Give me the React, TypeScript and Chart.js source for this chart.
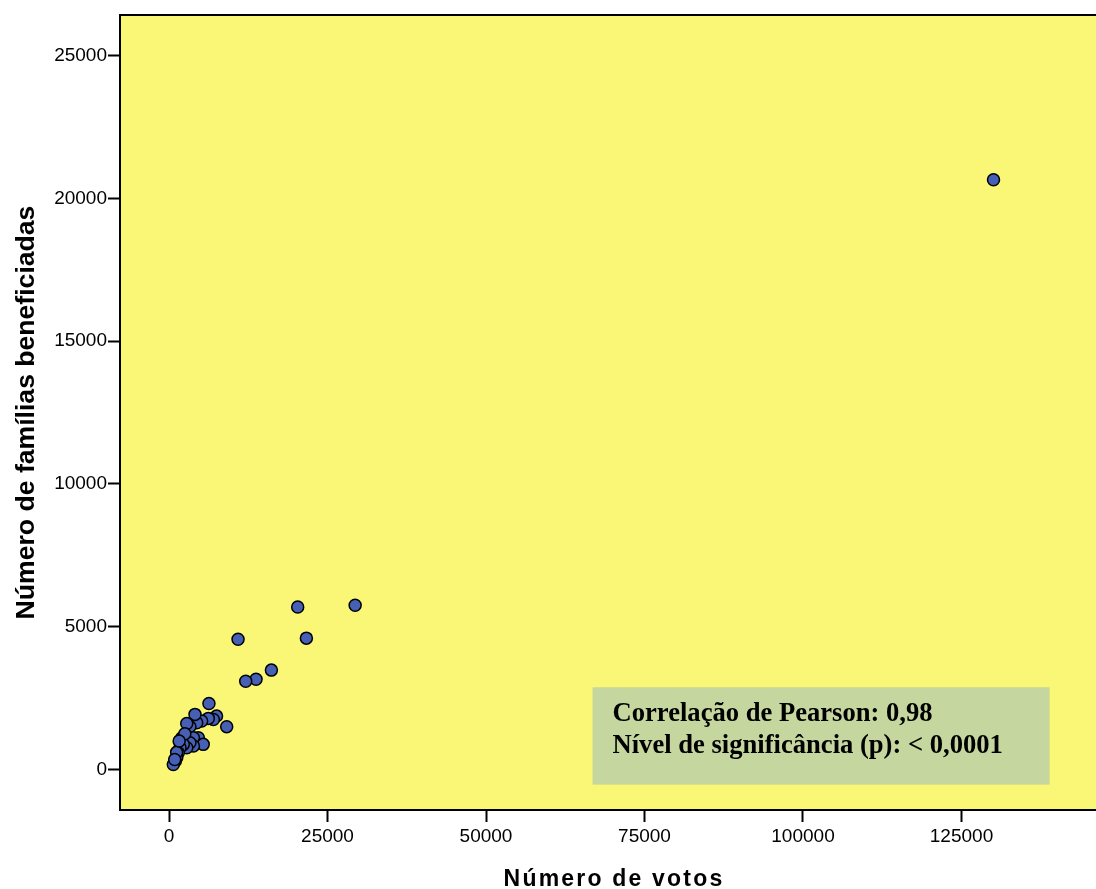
import React, { useEffect, useRef } from "react";
import { Chart, registerables } from "chart.js";

Chart.register(...registerables);

// Número de votos (x) and Número de famílias beneficiadas (y), one pair per point
const votos = [
  130050, 29360, 20300, 21670, 10890, 16150, 13730, 12100,
  9100, 6300, 7500, 7000, 6200, 5150, 4370, 4100, 3300, 2800,
  4630, 3850, 2000, 5400, 3850, 3300, 2800, 2260, 1740, 1470,
  1220, 1000, 680, 2500, 1200, 900, 1600,
];
const familias = [
  20650, 5750, 5690, 4600, 4560, 3480, 3160, 3090,
  1500, 2310, 1870, 1750, 1790, 1700, 1640, 1930, 1500, 1610,
  1110, 1110, 1100, 880, 820, 940, 760, 880, 760, 585,
  410, 300, 175, 1250, 600, 350, 1000,
];

const xTicks = [0, 25000, 50000, 75000, 100000, 125000];
const yTicks = [0, 5000, 10000, 15000, 20000, 25000];
const xTitle = "Número de votos";
const yTitle = "Número de famílias beneficiadas";
const annotationLines = [
  "Correlação de Pearson: 0,98",
  "Nível de significância (p): < 0,0001",
];

const SANS = "'Liberation Sans', Arial, sans-serif";
const SERIF = "'Liberation Serif', 'Times New Roman', serif";

export default function App() {
  const ref = useRef<HTMLCanvasElement | null>(null);

  useEffect(() => {
    if (!ref.current) return;
    const bgPlugin = {
      id: "bgPlugin",
      beforeDraw(chart: any) {
        const { ctx, chartArea } = chart;
        ctx.save();
        ctx.fillStyle = "#fbf776";
        ctx.fillRect(chartArea.left, chartArea.top, chartArea.right - chartArea.left, chartArea.bottom - chartArea.top);
        ctx.restore();
      },
      afterDraw(chart: any) {
        const { ctx, chartArea } = chart;
        ctx.save();
        ctx.strokeStyle = "#000";
        ctx.lineWidth = 2;
        ctx.beginPath();
        ctx.moveTo(chartArea.left - 1, chartArea.top);
        ctx.lineTo(chartArea.right, chartArea.top);
        ctx.stroke();
        // x axis title (letter-spaced)
        ctx.fillStyle = "#000";
        ctx.font = `bold 23px ${SANS}`;
        (ctx as any).letterSpacing = "2.2px";
        ctx.textAlign = "center";
        ctx.textBaseline = "alphabetic";
        ctx.fillText(xTitle, (chartArea.left + chartArea.right) / 2 + 6, chart.height - 3);
        (ctx as any).letterSpacing = "0px";
        ctx.restore();
      },
      afterDatasetsDraw(chart: any) {
        const { ctx } = chart;
        const xs = chart.scales.x;
        const ys = chart.scales.y;
        const x0 = xs.getPixelForValue(66800);
        const x1 = xs.getPixelForValue(138900);
        const y0 = ys.getPixelForValue(2880);
        const y1 = ys.getPixelForValue(-530);
        ctx.save();
        ctx.fillStyle = "#c5d69e";
        ctx.fillRect(x0, y0, x1 - x0, y1 - y0);
        ctx.fillStyle = "#000";
        ctx.font = `bold 26.6px ${SERIF}`;
        ctx.textBaseline = "alphabetic";
        ctx.textAlign = "left";
        annotationLines.forEach((t, i) => {
          ctx.fillText(t, x0 + 20, y0 + 34 + i * 32);
        });
        ctx.restore();
      },
    };

    const chart = new Chart(ref.current, {
      type: "scatter",
      data: {
        datasets: [
          {
            data: votos.map((v, i) => ({ x: v, y: familias[i] })),
            backgroundColor: "#4660b5",
            borderColor: "#000",
            borderWidth: 1.5,
            pointRadius: 6,
            pointHoverRadius: 6,
          },
        ],
      },
      options: {
        responsive: false,
        animation: false,
        layout: { autoPadding: false, padding: { top: 15, left: 0, right: 0, bottom: 0 } },
        plugins: { legend: { display: false }, tooltip: { enabled: false } },
        scales: {
          x: {
            type: "linear",
            min: -7729,
            max: 146215,
            afterBuildTicks: (s: any) => {
              s.ticks = xTicks.map((v) => ({ value: v }));
            },
            afterFit: (s: any) => {
              s.height = 79;
            },
            grid: {
              display: true,
              drawOnChartArea: false,
              drawTicks: true,
              tickLength: 12,
              tickColor: "#000",
              tickWidth: 2,
            },
            border: { display: true, color: "#000", width: 2 },
            ticks: {
              color: "#000",
              font: { family: SANS, size: 19 },
              padding: 3,
              maxRotation: 0,
              autoSkip: false,
              callback: (v: any) => String(v),
            },
            title: { display: false },
          },
          y: {
            type: "linear",
            min: -1418,
            max: 26418,
            afterBuildTicks: (s: any) => {
              s.ticks = yTicks.map((v) => ({ value: v }));
            },
            afterFit: (s: any) => {
              s.width = 120;
            },
            grid: {
              display: true,
              drawOnChartArea: false,
              drawTicks: true,
              tickLength: 12,
              tickColor: "#000",
              tickWidth: 2,
            },
            border: { display: true, color: "#000", width: 2 },
            ticks: {
              color: "#000",
              font: { family: SANS, size: 19 },
              padding: 1,
              autoSkip: false,
              callback: (v: any) => String(v),
            },
            title: {
              display: true,
              text: yTitle,
              color: "#000",
              font: { family: SANS, size: 26.6, weight: "bold", lineHeight: 1 },
              padding: { top: 13, bottom: 0 },
            },
          },
        },
      },
      plugins: [bgPlugin],
    } as any);
    return () => chart.destroy();
  }, []);

  return (
    <div style={{ position: "fixed", left: 0, top: 0, width: 1096, height: 889, background: "#fff", overflow: "hidden" }}>
      <canvas ref={ref} width={1096} height={889} style={{ display: "block" }} />
    </div>
  );
}
